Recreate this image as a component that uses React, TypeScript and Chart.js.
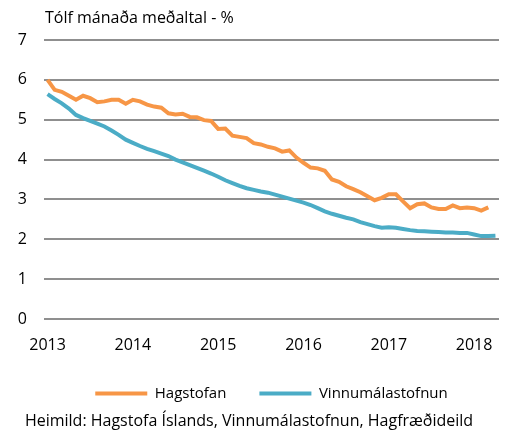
import React, { useEffect, useRef } from "react";
import { Chart, registerables } from "chart.js";

Chart.register(...registerables);

const years = ["2013", "2014", "2015", "2016", "2017", "2018"];
const monthNumbers = ["01", "02", "03", "04", "05", "06", "07", "08", "09", "10", "11", "12"];
const categories = years.flatMap((y) => monthNumbers.map((m) => `${y}-${m}`)).slice(0, 64);

const hagstofan: (number | null)[] = [
  6.0, 5.75, 5.7, 5.6, 5.5, 5.6, 5.54, 5.44, 5.46, 5.5, 5.5, 5.4,
  5.5, 5.46, 5.38, 5.33, 5.3, 5.16, 5.13, 5.15, 5.07, 5.06, 4.99, 4.97,
  4.77, 4.78, 4.6, 4.57, 4.54, 4.41, 4.38, 4.32, 4.28, 4.2, 4.23, 4.05,
  3.92, 3.8, 3.78, 3.72, 3.5, 3.44, 3.33, 3.26, 3.18, 3.08, 2.98, 3.04,
  3.13, 3.13, 2.95, 2.78, 2.88, 2.9, 2.8, 2.76, 2.76, 2.85, 2.78, 2.8,
  2.78, 2.72, 2.8, null,
];

const vinnumalastofnun: number[] = [
  5.64, 5.52, 5.41, 5.28, 5.12, 5.04, 4.97, 4.9, 4.83, 4.73, 4.62, 4.5,
  4.42, 4.34, 4.27, 4.21, 4.15, 4.09, 4.0, 3.93, 3.86, 3.79, 3.72, 3.65,
  3.57, 3.48, 3.41, 3.34, 3.28, 3.24, 3.2, 3.17, 3.12, 3.07, 3.02, 2.97,
  2.92, 2.86, 2.78, 2.7, 2.64, 2.59, 2.54, 2.5, 2.43, 2.38, 2.33, 2.29,
  2.3, 2.29, 2.26, 2.23, 2.21, 2.2, 2.19, 2.18, 2.17, 2.17, 2.16, 2.16,
  2.12, 2.08, 2.08, 2.09,
];

const seriesNames = ["Hagstofan", "Vinnumálastofnun"];
const titleText = "Tólf mánaða meðaltal - %";
const sourceText = "Heimild: Hagstofa Íslands, Vinnumálastofnun, Hagfræðideild";
const yMin = 0;
const yMax = 7;
const yStep = 1;

const FONT = "'Open Sans', sans-serif";
const FS = 16;
const ORANGE = "#F79646";
const BLUE = "#4BACC6";

const textPlugin = {
  id: "extraText",
  afterDraw(chart: any) {
    const { ctx, chartArea, width } = chart;
    ctx.save();
    ctx.fillStyle = "#000";
    ctx.font = `${FS}px ${FONT}`;
    ctx.textBaseline = "middle";
    ctx.textAlign = "left";
    ctx.fillText(titleText, chartArea.left + 1, 18);
    ctx.textAlign = "center";
    ctx.fillText(sourceText, width / 2 - 4, 421);
    ctx.restore();
  },
};

export default function App() {
  const ref = useRef<HTMLCanvasElement | null>(null);

  useEffect(() => {
    if (!ref.current) return;
    const chart = new Chart(ref.current, {
      type: "line",
      data: {
        labels: categories,
        datasets: [
          {
            label: seriesNames[0],
            data: hagstofan,
            borderColor: ORANGE,
            backgroundColor: ORANGE,
            borderWidth: 4,
            pointRadius: 0,
            tension: 0,
            spanGaps: false,
          },
          {
            label: seriesNames[1],
            data: vinnumalastofnun,
            borderColor: BLUE,
            backgroundColor: BLUE,
            borderWidth: 4,
            pointRadius: 0,
            tension: 0,
          },
        ],
      },
      options: {
        animation: false,
        responsive: false,
        maintainAspectRatio: false,
        layout: { padding: { top: 40, left: 0, right: 7, bottom: 22 } },
        plugins: {
          legend: {
            display: true,
            position: "bottom",
            fullSize: false,
            labels: {
              boxWidth: 52,
              boxHeight: 0,
              padding: 33,
              color: "#000",
              font: { family: FONT, size: 15 },
            },
          },
          tooltip: { enabled: false },
          title: { display: false },
        },
        scales: {
          x: {
            type: "category",
            offset: true,
            grid: { display: false, drawTicks: false },
            border: { display: false },
            ticks: {
              autoSkip: false,
              maxRotation: 0,
              padding: 17,
              color: "#000",
              font: { family: FONT, size: FS },
              callback: (_v: any, i: number) =>
                categories[i].endsWith("-01") ? categories[i].slice(0, 4) : null,
            },
            afterFit: (s: any) => {
              s.height = 34;
              s.paddingLeft = 0;
              s.paddingRight = 0;
            },
          },
          y: {
            min: yMin,
            max: yMax,
            grid: { color: "#8f8f8f", lineWidth: 2, drawTicks: false },
            border: { display: false },
            ticks: {
              stepSize: yStep,
              padding: 17,
              color: "#000",
              font: { family: FONT, size: FS },
            },
            afterFit: (s: any) => {
              s.width = 44;
            },
          },
        },
      },
      plugins: [textPlugin],
    });
    return () => chart.destroy();
  }, []);

  return (
    <div style={{ position: "fixed", left: 0, top: 0, width: 506, height: 433, background: "#fff" }}>
      <canvas ref={ref} width={506} height={433} style={{ width: 506, height: 433 }} />
    </div>
  );
}
